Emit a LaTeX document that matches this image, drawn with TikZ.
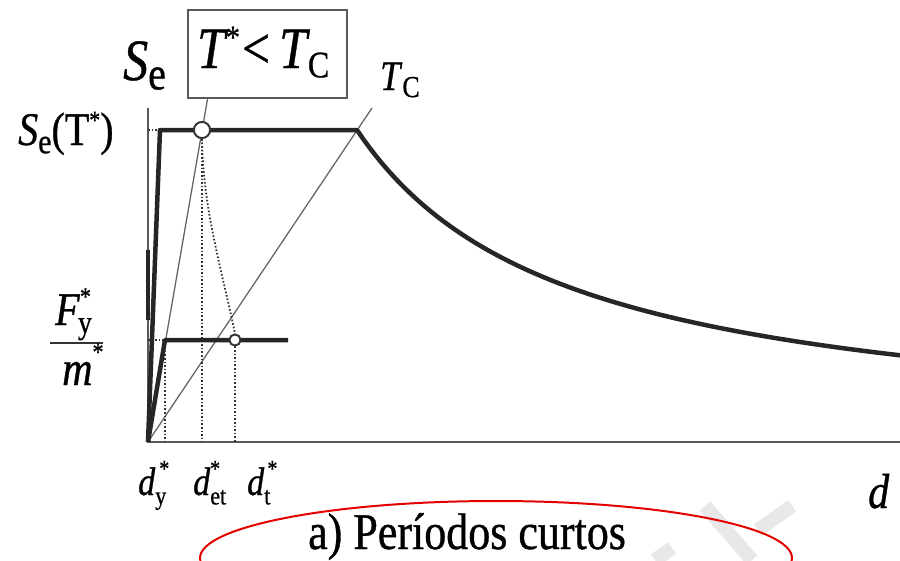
\documentclass[tikz,border=0pt]{standalone}
\usepackage{fontspec}
\setmainfont{LiberationSerif}[Extension=.ttf, UprightFont=*-Regular, ItalicFont=*-Italic, BoldFont=*-Bold, BoldItalicFont=*-BoldItalic, FakeBold=0.8]
\usepackage{graphicx}
\newcommand\tall[1]{\scalebox{1}[1.17]{#1}}
\newcommand\fsz[1]{\fontsize{#1}{#1}\selectfont}
\begin{document}
\begin{tikzpicture}[x=1pt,y=-1pt,
  thickc/.style={line width=4.5pt, black!85, line join=round},
  thinl/.style={line width=1.3pt, black!60},
  axisl/.style={line width=2pt, black!65},
  dotl/.style={line width=1.8pt, black!80, dash pattern=on 1.6pt off 2pt},
  wmark/.style={line width=14pt, black!9, line cap=butt},
  lbl/.style={inner sep=0, anchor=base west},
  ring/.style={circle, draw=black!80, line width=1.8pt, fill=white, inner sep=0}]
\useasboundingbox (0,0) rectangle (900,560);
\clip (0,0) rectangle (900,560);
% faint watermark strokes
\coordinate (W1) at (705,506);
\coordinate (W2) at (752,560);
\coordinate (W3) at (792,506);
\coordinate (W4) at (758,530);
\coordinate (W5) at (655,560);
\coordinate (W6) at (672,548);
\draw[wmark] (W1) -- (W2);
\draw[wmark] (W3) -- (W4);
\draw[wmark] (W5) -- (W6);
% key points
\coordinate (O) at (148,442);
\coordinate (Ax) at (900,442);
\coordinate (Ay) at (148,108);
\coordinate (E1) at (160,130);
\coordinate (TCp) at (357,130);
\coordinate (Y1) at (165,340);
\coordinate (Y2) at (288,340);
\coordinate (TCend) at (372,108);
\coordinate (Tsend) at (207.7,98);
\coordinate (S1) at (148,250);
\coordinate (S2) at (148,320);
% axes
\draw[axisl] (Ay) -- (O) -- (Ax);
\draw[line width=4pt, black!85] (S1) -- (S2);
% box
\node[draw=black!65, line width=1.8pt, minimum width=159pt, minimum height=88pt, inner sep=0] (box) at (267.5,54) {};
% circles (positions)
\node[ring, minimum size=16pt] (c1) at (202,130) {};
\node[ring, minimum size=11pt] (c2) at (235,340) {};
% thin period lines
\draw[thinl] (O) -- (TCend);
\draw[thinl] (O) -- (Tsend);
% dotted lines
\draw[dotl] (O |- E1) -- (E1);
\draw[dotl] (O |- Y1) -- (Y1);
\draw[dotl] (Y1) -- (Y1 |- O);
\draw[dotl] (c1.south) -- (c1 |- O);
\draw[dotl] (c2.south) -- (c2 |- O);
\draw[dotl] (c1.south) .. controls (203,210) and (222,270) .. (c2.north);
% spectra
\draw[thickc] (O) -- (E1) -- (TCp) -- plot[domain=357:905, samples=90] (\x, {442 - 312*(209/(\x-148))});
\draw[thickc] (O) -- (Y1) -- (Y2);
% redraw circles on top
\node[ring, minimum size=16pt] at (c1) {};
\node[ring, minimum size=11pt] at (c2) {};
% labels
\node[lbl] (Se) at (123,80) {\tall{\fsz{50}\textit{S}\raisebox{-8pt}{\fsz{40}e}}};
\node[lbl] (boxtxt) at (197,68) {\tall{\fsz{50}\textit{T}\hspace{-2pt}\raisebox{17pt}{\fsz{28}*}\hspace{2pt}<\hspace{9pt}\textit{T}\hspace{-2pt}\raisebox{-8pt}{\fsz{32}C}}};
\node[lbl] (TC) at (380,90) {\tall{\fsz{36}\textit{T}\raisebox{-6pt}{\fsz{26}C}}};
\node[lbl] (SeT) at (18,145) {\tall{\fsz{40}\textit{S}\raisebox{-7pt}{\fsz{30}e}(T\raisebox{14pt}{\fsz{22}*})}};
\node[lbl] (Fy) at (55,325) {\tall{\fsz{40}\textit{F}\raisebox{17pt}{\fsz{22}*}\hspace{-13pt}\raisebox{-7pt}{\fsz{28}y}}};
\coordinate (B1) at (50,343);
\coordinate (B2) at (103,343);
\draw[line width=1.6pt, black!80] (B1) -- (B2);
\node[lbl] (ms) at (62,385) {\tall{\fsz{42}\textit{m}\raisebox{21pt}{\fsz{22}*}}};
\node[lbl] (dy) at (138,495) {\tall{\fsz{34}\textit{d}\raisebox{-8pt}{\fsz{22}y}\hspace{-7pt}\raisebox{16pt}{\fsz{20}*}}};
\node[lbl] (det) at (193,495) {\tall{\fsz{34}\textit{d}\raisebox{-8pt}{\fsz{22}et}\hspace{-16pt}\raisebox{16pt}{\fsz{20}*}}};
\node[lbl] (dt) at (247,495) {\tall{\fsz{34}\textit{d}\raisebox{-8pt}{\fsz{22}t}\hspace{-3pt}\raisebox{16pt}{\fsz{20}*}}};
\node[lbl] (dax) at (868,508) {\tall{\fsz{42}\textit{d}}};
\node[lbl] (cap) at (308,549) {\tall{\fsz{44}a) Períodos curtos}};
\draw[red!90!black, line width=2pt] (496,558) ellipse [x radius=296, y radius=57];
\end{tikzpicture}
\end{document}
